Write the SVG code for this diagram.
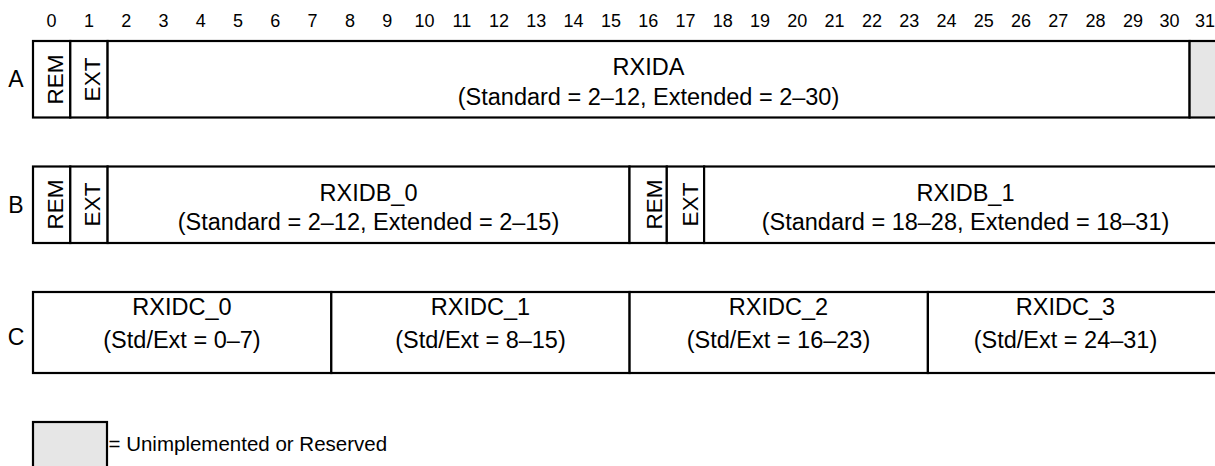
<svg xmlns="http://www.w3.org/2000/svg" width="1215" height="466" viewBox="0 0 1215 466">
<style>
text{font-family:"Liberation Sans",Arial,Helvetica,sans-serif;fill:#000}
.bit{font-size:18px;text-anchor:middle}
.lbl{font-size:23.5px;text-anchor:middle}
.row{font-size:23px;text-anchor:middle}
.rot{font-size:22.5px;text-anchor:middle}
.leg{font-size:20.5px}
.cell{fill:#fff;stroke:#000;stroke-width:2.2}
.gray{fill:#e6e6e6;stroke:#000;stroke-width:2.2}
</style>
<rect width="1215" height="466" fill="#fff"/>
<g id="bit-numbers">
<text class="bit" x="51.6" y="27">0</text>
<text class="bit" x="88.9" y="27">1</text>
<text class="bit" x="126.2" y="27">2</text>
<text class="bit" x="163.5" y="27">3</text>
<text class="bit" x="200.8" y="27">4</text>
<text class="bit" x="238.1" y="27">5</text>
<text class="bit" x="275.3" y="27">6</text>
<text class="bit" x="312.6" y="27">7</text>
<text class="bit" x="349.9" y="27">8</text>
<text class="bit" x="387.2" y="27">9</text>
<text class="bit" x="424.5" y="27">10</text>
<text class="bit" x="461.8" y="27">11</text>
<text class="bit" x="499.1" y="27">12</text>
<text class="bit" x="536.3" y="27">13</text>
<text class="bit" x="573.6" y="27">14</text>
<text class="bit" x="610.9" y="27">15</text>
<text class="bit" x="648.2" y="27">16</text>
<text class="bit" x="685.5" y="27">17</text>
<text class="bit" x="722.8" y="27">18</text>
<text class="bit" x="760.1" y="27">19</text>
<text class="bit" x="797.3" y="27">20</text>
<text class="bit" x="834.6" y="27">21</text>
<text class="bit" x="871.9" y="27">22</text>
<text class="bit" x="909.2" y="27">23</text>
<text class="bit" x="946.5" y="27">24</text>
<text class="bit" x="983.8" y="27">25</text>
<text class="bit" x="1021.1" y="27">26</text>
<text class="bit" x="1058.3" y="27">27</text>
<text class="bit" x="1095.6" y="27">28</text>
<text class="bit" x="1132.9" y="27">29</text>
<text class="bit" x="1169.5" y="27">30</text>
<text class="bit" x="1205" y="27">31</text>
</g>
<g id="row-labels">
<text class="row" x="16" y="87">A</text>
<text class="row" x="16" y="212.5">B</text>
<text class="row" x="16" y="345">C</text>
</g>
<g id="rowA">
<g id="A-REM"><rect class="cell" x="33" y="41" width="37.3" height="76.5"/><text class="rot" transform="translate(63,79.5) rotate(-90)">REM</text></g>
<g id="A-EXT"><rect class="cell" x="70.3" y="41" width="37.3" height="76.5"/><text class="rot" transform="translate(100,79.5) rotate(-90)">EXT</text></g>
<g id="A-RXIDA"><rect class="cell" x="107.6" y="41" width="1082" height="76.5"/><text class="lbl" x="648.5" y="75">RXIDA</text><text class="lbl" x="648.5" y="104.5">(Standard = 2–12, Extended = 2–30)</text></g>
<g id="A-reserved"><rect class="gray" x="1189.6" y="41" width="40" height="76.5"/></g>
</g>
<g id="rowB">
<g id="B-REM0"><rect class="cell" x="33" y="166.5" width="37.3" height="76.5"/><text class="rot" transform="translate(63,204.5) rotate(-90)">REM</text></g>
<g id="B-EXT0"><rect class="cell" x="70.3" y="166.5" width="37.3" height="76.5"/><text class="rot" transform="translate(100,204.5) rotate(-90)">EXT</text></g>
<g id="B-RXIDB0"><rect class="cell" x="107.6" y="166.5" width="521.9" height="76.5"/><text class="lbl" x="368.5" y="201">RXIDB_0</text><text class="lbl" x="368.5" y="229.5">(Standard = 2–12, Extended = 2–15)</text></g>
<g id="B-REM1"><rect class="cell" x="629.5" y="166.5" width="37.3" height="76.5"/><text class="rot" transform="translate(661.5,204.5) rotate(-90)">REM</text></g>
<g id="B-EXT1"><rect class="cell" x="666.8" y="166.5" width="37.3" height="76.5"/><text class="rot" transform="translate(698,204.5) rotate(-90)">EXT</text></g>
<g id="B-RXIDB1"><rect class="cell" x="704.1" y="166.5" width="525" height="76.5"/><text class="lbl" x="965.5" y="201">RXIDB_1</text><text class="lbl" x="965.5" y="229.5">(Standard = 18–28, Extended = 18–31)</text></g>
</g>
<g id="rowC">
<g id="C-RXIDC0"><rect class="cell" x="33" y="292" width="298.3" height="81"/><text class="lbl" x="182" y="315">RXIDC_0</text><text class="lbl" x="182" y="348">(Std/Ext = 0–7)</text></g>
<g id="C-RXIDC1"><rect class="cell" x="331.3" y="292" width="298.3" height="81"/><text class="lbl" x="480.5" y="315">RXIDC_1</text><text class="lbl" x="480.5" y="348">(Std/Ext = 8–15)</text></g>
<g id="C-RXIDC2"><rect class="cell" x="629.6" y="292" width="298.3" height="81"/><text class="lbl" x="778.5" y="315">RXIDC_2</text><text class="lbl" x="778.5" y="348">(Std/Ext = 16–23)</text></g>
<g id="C-RXIDC3"><rect class="cell" x="927.9" y="292" width="300" height="81"/><text class="lbl" x="1065.5" y="315">RXIDC_3</text><text class="lbl" x="1065.5" y="348">(Std/Ext = 24–31)</text></g>
</g>
<g id="legend">
<rect class="gray" x="33" y="422" width="74" height="60"/>
<text class="leg" x="108.5" y="451">= Unimplemented or Reserved</text>
</g>
</svg>
